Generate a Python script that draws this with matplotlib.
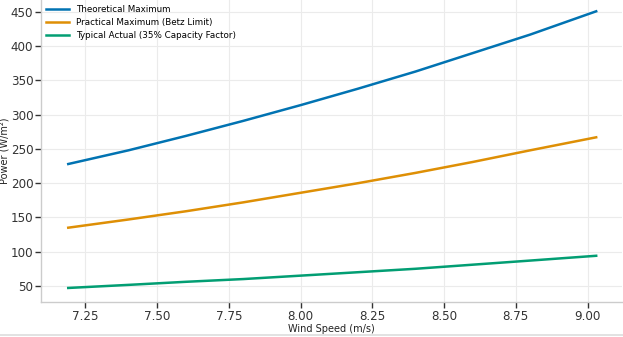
import numpy as np
import matplotlib.pyplot as plt
from matplotlib.lines import Line2D

# Wind power density vs. wind speed
wind_speed = [7.19, 7.40, 7.60, 7.80, 8.00, 8.20, 8.40, 8.60, 8.80, 9.03]
theoretical = [228, 248, 269, 291, 314, 338, 363, 390, 417, 451]
betz = [135, 147, 159, 172, 186, 200, 215, 231, 248, 267]
actual = [47, 51.5, 56, 60, 65, 70, 75, 81, 87, 94]

series_labels = ["Theoretical Maximum", "Practical Maximum (Betz Limit)",
                 "Typical Actual (35% Capacity Factor)"]
colors = ["#0173b2", "#de8f05", "#029e73"]

fig = plt.figure(figsize=(6.23, 3.37), dpi=100)
ax = fig.add_axes([41 / 623, 35 / 337, 581 / 623, 302 / 337])

for y, lab, c in zip([theoretical, betz, actual], series_labels, colors):
    ax.plot(wind_speed, y, color=c, lw=1.8, label=lab)

ax.set_xlim(7.095, 9.12)
ax.set_ylim(26.5, 467.5)
ax.set_xticks([7.25, 7.50, 7.75, 8.00, 8.25, 8.50, 8.75, 9.00])
ax.set_yticks([50, 100, 150, 200, 250, 300, 350, 400, 450])

ax.grid(True, color="#ebebeb", lw=0.8)
ax.set_axisbelow(True)
for side in ["top", "right"]:
    ax.spines[side].set_visible(False)
for side in ["left", "bottom"]:
    ax.spines[side].set_color("#cccccc")
    ax.spines[side].set_linewidth(1.0)
ax.tick_params(axis="both", labelsize=8.6, colors="#333333", length=4, width=1,
               direction="out", pad=1.5)
ax.tick_params(axis="both", labelcolor="#333333")

ax.set_xlabel("Wind Speed (m/s)", fontsize=7, color="#222222", labelpad=1)
ax.set_ylabel("Power (W/m²)", fontsize=7, color="#222222", labelpad=1)

ax.legend(loc="upper left", bbox_to_anchor=(0.0, 1.0), frameon=False,
          fontsize=6.3, handlelength=2.6, labelspacing=0.45,
          borderaxespad=0.2)

# thin separator along the bottom edge
fig.add_artist(Line2D([0, 1], [2 / 337, 2 / 337], color="#dddddd", lw=1.2,
                      transform=fig.transFigure))

fig.savefig("out.png", dpi=100)
